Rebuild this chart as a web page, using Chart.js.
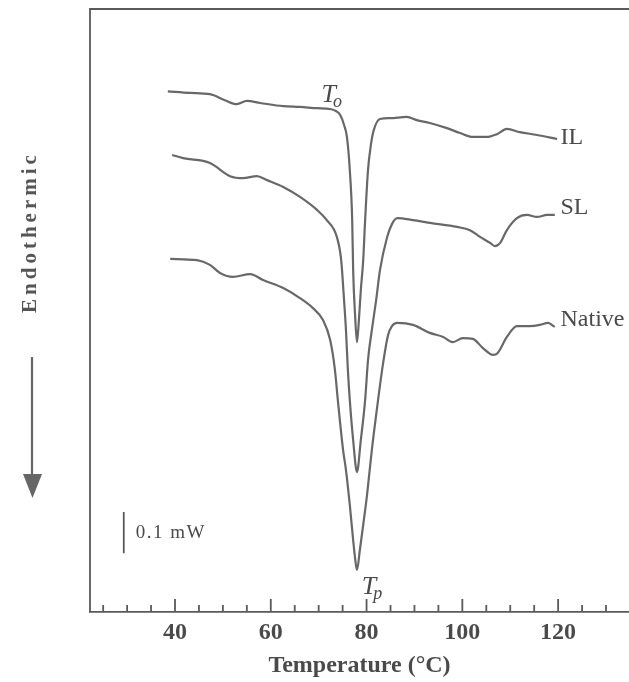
<!DOCTYPE html>
<html>
<head>
<meta charset="utf-8">
<script src="https://cdn.jsdelivr.net/npm/chart.js@4.4.1/dist/chart.umd.min.js"></script>
<style>
  html, body { margin: 0; padding: 0; background: #fff; overflow: hidden; }
  #wrap { width: 629px; height: 682px; position: relative; }
</style>
</head>
<body>
<div id="wrap"><canvas id="dsc" width="629" height="682"></canvas></div>
<script>
// Temperature (°C) and heat flow (mW, arbitrary offset)
const ilTemp = [38.5, 43.1, 47.3, 50.4, 52.9, 55.0, 57.8, 62.6, 66.1, 69.7, 72.4, 73.6, 74.5, 75.3, 75.9, 76.5, 77.0, 77.2, 77.6, 78.0, 78.4, 78.8, 79.3, 79.7, 80.3, 80.9, 81.5, 82.8, 84.9, 88.4, 90.5, 93.2, 96.8, 99.5, 102.2, 105.1, 107.2, 109.3, 112.0, 115.6, 119.8];
const ilFlow = [1.302, 1.298, 1.295, 1.280, 1.270, 1.278, 1.273, 1.265, 1.263, 1.260, 1.258, 1.253, 1.243, 1.218, 1.188, 1.105, 0.980, 0.855, 0.743, 0.675, 0.730, 0.805, 0.880, 0.980, 1.105, 1.168, 1.205, 1.233, 1.235, 1.238, 1.230, 1.223, 1.210, 1.198, 1.188, 1.188, 1.195, 1.208, 1.200, 1.193, 1.183];

const slTemp = [39.4, 41.7, 47.3, 51.5, 54.2, 57.1, 59.2, 62.6, 66.1, 69.7, 71.7, 73.8, 74.7, 75.3, 75.7, 76.1, 76.5, 77.2, 78.0, 78.8, 79.7, 80.3, 81.1, 82.0, 82.8, 84.3, 85.3, 86.4, 89.7, 93.2, 98.9, 101.6, 103.7, 105.8, 106.8, 107.9, 109.3, 111.4, 113.5, 115.6, 117.7, 119.3];
const slFlow = [1.143, 1.135, 1.123, 1.090, 1.085, 1.090, 1.080, 1.063, 1.038, 1.005, 0.980, 0.938, 0.880, 0.780, 0.705, 0.605, 0.530, 0.430, 0.350, 0.430, 0.530, 0.630, 0.705, 0.780, 0.855, 0.938, 0.970, 0.985, 0.980, 0.973, 0.963, 0.955, 0.938, 0.923, 0.915, 0.923, 0.955, 0.985, 0.993, 0.988, 0.993, 0.993];

const nativeTemp = [39.0, 44.6, 47.3, 49.4, 52.1, 55.7, 58.4, 62.6, 66.1, 68.8, 70.9, 72.4, 73.4, 74.0, 75.1, 75.7, 76.5, 77.2, 77.6, 78.0, 78.6, 79.3, 80.1, 81.1, 82.4, 83.4, 84.5, 85.3, 86.4, 89.7, 93.2, 96.0, 98.0, 100.1, 102.2, 104.3, 106.4, 107.4, 109.3, 111.4, 114.1, 116.2, 117.9, 119.3];
const nativeFlow = [0.883, 0.880, 0.868, 0.848, 0.838, 0.845, 0.830, 0.810, 0.785, 0.760, 0.730, 0.680, 0.605, 0.530, 0.405, 0.355, 0.268, 0.180, 0.135, 0.105, 0.155, 0.218, 0.293, 0.405, 0.530, 0.618, 0.693, 0.715, 0.723, 0.718, 0.698, 0.688, 0.675, 0.685, 0.683, 0.660, 0.643, 0.648, 0.688, 0.715, 0.715, 0.718, 0.723, 0.713];

const tickLabels = [40, 60, 80, 100, 120];
const minorTicks = [25, 30, 35, 45, 50, 55, 65, 70, 75, 85, 90, 95, 105, 110, 115, 125, 130];

const ink = '#4a4a4a';
const curve = '#686868';
const serif = '"Liberation Serif", "DejaVu Serif", serif';

function pts(xs, ys) {
    return xs.map((x, i) => ({ x: x, y: ys[i] }));
}

// frame, inward ticks, scale bar and text labels
const decor = {
    id: 'decor',
    afterDatasetsDraw(chart) {
        const ctx = chart.ctx;
        const a = chart.chartArea;
        const xs = chart.scales.x;
        const ys = chart.scales.y;
        ctx.save();
        ctx.strokeStyle = '#5a5a5a';
        ctx.lineWidth = 1.8;
        ctx.beginPath();
        ctx.moveTo(a.left, a.bottom);
        ctx.lineTo(a.left, a.top);
        ctx.lineTo(a.right + 2, a.top);
        ctx.stroke();

        // ticks pointing into the plot
        ctx.lineWidth = 1.8;
        ctx.beginPath();
        tickLabels.forEach(v => {
            const px = xs.getPixelForValue(v);
            ctx.moveTo(px, a.bottom);
            ctx.lineTo(px, a.bottom - 13);
        });
        minorTicks.forEach(v => {
            const px = xs.getPixelForValue(v);
            ctx.moveTo(px, a.bottom);
            ctx.lineTo(px, a.bottom - 7);
        });
        ctx.stroke();

        // 0.1 mW scale bar
        const barX = xs.getPixelForValue(29.3);
        ctx.lineWidth = 1.8;
        ctx.beginPath();
        ctx.moveTo(barX, ys.getPixelForValue(0.25));
        ctx.lineTo(barX, ys.getPixelForValue(0.147));
        ctx.stroke();

        ctx.fillStyle = ink;
        ctx.textBaseline = 'middle';
        ctx.textAlign = 'left';
        ctx.font = '19px ' + serif;
        ctx.letterSpacing = '1.5px';
        ctx.fillText('0.1 mW', barX + 12, ys.getPixelForValue(0.198));
        ctx.letterSpacing = '0px';

        ctx.font = '24px ' + serif;
        ctx.fillText('IL', xs.getPixelForValue(120.5), ys.getPixelForValue(1.185));
        ctx.fillText('SL', xs.getPixelForValue(120.5), ys.getPixelForValue(1.01));
        ctx.fillText('Native', xs.getPixelForValue(120.5), ys.getPixelForValue(0.73));

        // T_o and T_p
        function tLabel(sub, x, y) {
            const px = xs.getPixelForValue(x);
            const py = ys.getPixelForValue(y);
            ctx.textBaseline = 'alphabetic';
            ctx.font = 'italic 26px ' + serif;
            ctx.fillText('T', px, py);
            const w = ctx.measureText('T').width;
            ctx.font = 'italic 18px ' + serif;
            ctx.fillText(sub, px + w - 3, py + 5);
        }
        tLabel('o', 70.6, 1.275);
        tLabel('p', 79.0, 0.045);

        // y-axis caption with arrow
        ctx.save();
        ctx.translate(22, 232);
        ctx.rotate(-Math.PI / 2);
        ctx.textAlign = 'center';
        ctx.textBaseline = 'alphabetic';
        ctx.font = 'bold 21px ' + serif;
        ctx.letterSpacing = '4px';
        ctx.fillStyle = '#555';
        ctx.fillText('Endothermic', 0, 14);
        ctx.restore();

        ctx.strokeStyle = '#666';
        ctx.lineWidth = 2.2;
        ctx.beginPath();
        ctx.moveTo(32, 357);
        ctx.lineTo(32, 478);
        ctx.stroke();
        ctx.fillStyle = '#666';
        ctx.beginPath();
        ctx.moveTo(23, 474);
        ctx.lineTo(42, 474);
        ctx.lineTo(32.5, 498);
        ctx.closePath();
        ctx.fill();
        ctx.restore();
    }
};

const ctx = document.getElementById('dsc').getContext('2d');
const dscChart = new Chart(ctx, {
    type: 'line',
    data: {
        datasets: [
            { label: 'IL', data: pts(ilTemp, ilFlow) },
            { label: 'SL', data: pts(slTemp, slFlow) },
            { label: 'Native', data: pts(nativeTemp, nativeFlow) }
        ]
    },
    options: {
        responsive: false,
        animation: false,
        devicePixelRatio: 1,
        layout: { padding: { left: 90, top: 9, right: 0, bottom: 0 } },
        elements: {
            line: { borderColor: curve, borderWidth: 2.2, cubicInterpolationMode: 'monotone', fill: false },
            point: { radius: 0 }
        },
        plugins: {
            legend: { display: false },
            tooltip: { enabled: false }
        },
        scales: {
            x: {
                type: 'linear',
                min: 22.25,
                max: 134.8,
                afterBuildTicks: (scale) => {
                    scale.ticks = tickLabels.map(v => ({ value: v }));
                },
                afterFit: (scale) => { scale.height = 70; },
                grid: { display: false, drawTicks: false },
                border: { display: true, color: '#5a5a5a', width: 1.8 },
                ticks: {
                    padding: 6,
                    color: ink,
                    font: { family: serif, size: 24, weight: 'bold' }
                },
                title: {
                    display: true,
                    text: 'Temperature (\u00B0C)',
                    color: ink,
                    font: { family: serif, size: 24, weight: 'bold' },
                    padding: { top: 0, bottom: 2 }
                }
            },
            y: {
                display: false,
                min: 0,
                max: 1.508
            }
        }
    },
    plugins: [decor]
});
</script>
</body>
</html>
